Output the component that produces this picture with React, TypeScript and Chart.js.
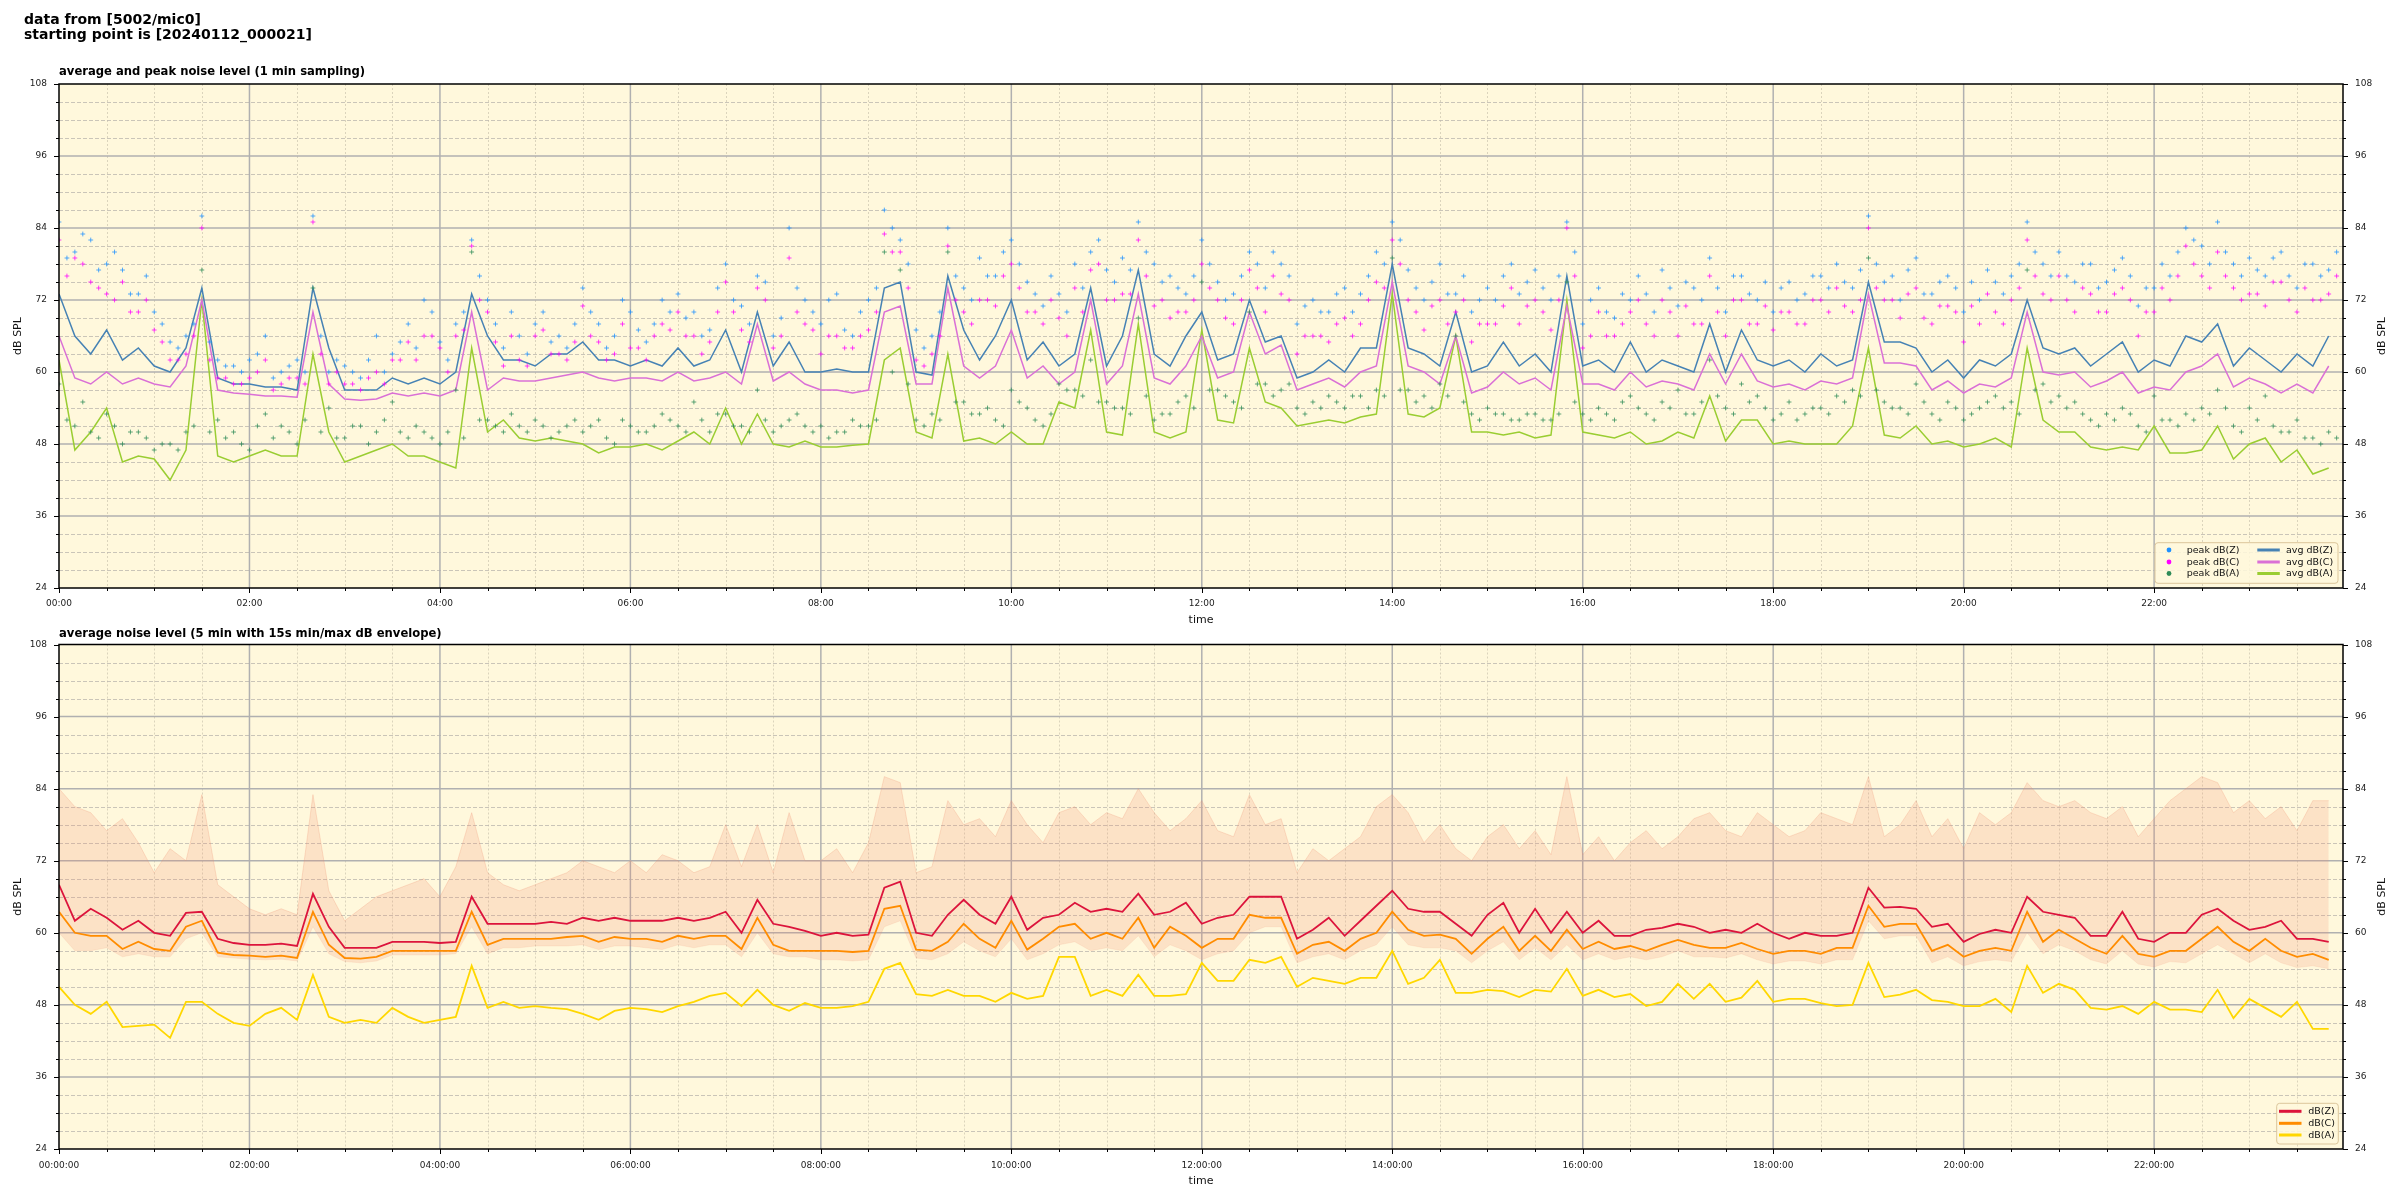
import React, { useEffect, useRef } from "react";
import { Chart, registerables } from "chart.js";

Chart.register(...registerables);

// ---------------- data (10-minute resolution, minutes from 00:00) ----------------
const SAMPLE_STEP_MIN = 10;
const PEAK_OFFSET_MIN = 5;
const X_MAX_MIN = 1439;
const xTickMinutes = [0, 120, 240, 360, 480, 600, 720, 840, 960, 1080, 1200, 1320];
const xTickLabelsTop = ["00:00", "02:00", "04:00", "06:00", "08:00", "10:00", "12:00", "14:00", "16:00", "18:00", "20:00", "22:00"];
const xTickLabelsBottom = ["00:00:00", "02:00:00", "04:00:00", "06:00:00", "08:00:00", "10:00:00", "12:00:00", "14:00:00", "16:00:00", "18:00:00", "20:00:00", "22:00:00"];
const yTickValues = [24, 36, 48, 60, 72, 84, 96, 108];

// top panel: 1-min averages
const avgZ = [
  73, 66, 63, 67, 62, 64, 61, 60, 64, 74, 59, 58, 58, 57.5, 57.5, 57, 74, 64, 57, 57, 57, 59, 58, 59, 58, 60, 73, 66, 62, 62, 61, 63, 63, 65, 62, 62, 61, 62, 61, 64, 61, 62, 67, 60, 70, 61, 65, 60,
  60, 60.5, 60, 60, 74, 75, 60, 59.5, 76, 67, 62, 66, 72, 62, 65, 61, 63, 74, 61, 66, 77, 63, 61, 66, 70, 62, 63, 72, 65, 66, 59, 60, 62, 60, 64, 64, 78, 64, 63, 61, 70, 60, 61, 65, 61, 63, 60, 76,
  61, 62, 60, 65, 60, 62, 61, 60, 68, 60, 67, 62, 61, 62, 60, 63, 61, 62, 75, 65, 65, 64, 60, 62, 59, 62, 61, 63, 72, 64, 63, 64, 61, 63, 65, 60, 62, 61, 66, 65, 68, 61, 64, 62, 60, 63, 61, 66,
];
const avgC = [
  66, 59, 58, 60, 58, 59, 58, 57.5, 61, 72, 57, 56.5, 56.3, 56, 56, 55.8, 70, 58, 55.5, 55.3, 55.5, 56.5, 56, 56.5, 56, 57, 70, 57, 59, 58.5, 58.5, 59, 59.5, 60, 59, 58.5, 59, 59, 58.5, 60, 58.5, 59, 60, 58, 68, 58.5, 60, 58,
  57, 57, 56.5, 57, 70, 71, 58, 58, 74, 61, 59, 61, 67, 59, 61, 58, 60, 72, 58, 61, 73, 59, 58, 61, 66, 59, 60, 70, 63, 64.5, 57, 58, 59, 57.5, 60, 61, 75, 61, 60, 58, 66, 56.5, 57.5, 60, 58, 59, 57, 71,
  58, 58, 57, 60, 57.5, 58.5, 58, 57, 63, 58, 63, 58.5, 57.5, 58, 57, 58.5, 58, 59, 73, 61.5, 61.5, 61, 57, 58.5, 56.5, 58, 57.5, 59, 70, 60, 59.5, 60, 57.5, 58.5, 60, 56.5, 57.5, 57, 60, 61, 63, 57.5, 59, 58, 56.5, 58, 56.5, 61,
];
const avgA = [
  62, 47, 50, 54, 45, 46, 45.5, 42, 47, 72, 46, 45, 46, 47, 46, 46, 63, 50, 45, 46, 47, 48, 46, 46, 45, 44, 64, 50, 52, 49, 48.5, 49, 48.5, 48, 46.5, 47.5, 47.5, 48, 47, 48.5, 50, 48, 54, 48, 53, 48, 47.5, 48.5,
  47.5, 47.5, 47.8, 48, 62, 64, 50, 49, 63, 48.5, 49, 48, 50, 48, 48, 55, 54, 67, 50, 49.5, 68, 50, 49, 50, 67, 52, 51.5, 64, 55, 54, 51, 51.5, 52, 51.5, 52.5, 53, 73, 53, 52.5, 54, 66, 50, 50, 49.5, 50, 49, 49.5, 72,
  50, 49.5, 49, 50, 48, 48.5, 50, 49, 56, 48.5, 52, 52, 48, 48.5, 48, 48, 48, 51, 64, 49.5, 49, 51, 48, 48.5, 47.5, 48, 49, 47.5, 64, 52, 50, 50, 47.5, 47, 47.5, 47, 51, 46.5, 46.5, 47, 51, 45.5, 48, 49, 45, 47, 43, 44,
];
// top panel: peaks at the 10-minute marks
const peakZ = [
  85, 80, 82, 78, 77, 73, 70, 65, 66, 86, 62, 61, 62, 66, 60, 62, 86, 60, 61, 59, 66, 63, 68, 72, 65, 68, 82, 72, 64, 66, 68, 65, 64, 74, 68, 66, 70, 65, 72, 73, 70, 67, 78, 71, 76, 66, 84, 72,
  68, 73, 66, 72, 87, 82, 67, 66, 84, 74, 79, 76, 82, 75, 71, 73, 78, 80, 77, 79, 85, 78, 76, 73, 82, 75, 73, 80, 74, 78, 68, 72, 70, 74, 73, 80, 85, 77, 72, 78, 73, 70, 74, 76, 73, 77, 72, 85,
  68, 74, 69, 72, 73, 77, 71, 74, 79, 70, 76, 72, 70, 75, 73, 76, 78, 74, 86, 75, 72, 79, 73, 76, 70, 72, 75, 76, 85, 78, 80, 75, 78, 75, 79, 71, 74, 76, 84, 81, 85, 78, 79, 76, 80, 74, 78, 77,
];
const peakC = [
  82, 79, 75, 73, 75, 70, 67, 62, 63, 84, 59, 58, 59, 62, 58, 59, 85, 58, 58, 57, 60, 62, 65, 66, 64, 66, 81, 70, 61, 62, 66, 63, 62, 71, 65, 63, 64, 62, 68, 70, 66, 65, 75, 67, 74, 64, 79, 68,
  63, 66, 64, 67, 83, 80, 62, 63, 81, 70, 72, 71, 78, 70, 68, 69, 74, 77, 72, 73, 82, 71, 69, 70, 78, 72, 68, 77, 70, 73, 63, 66, 65, 69, 68, 75, 82, 72, 67, 72, 70, 65, 68, 71, 68, 72, 67, 84,
  64, 70, 66, 70, 68, 72, 66, 68, 76, 66, 72, 68, 67, 70, 68, 72, 74, 70, 84, 72, 69, 74, 68, 71, 65, 68, 70, 72, 82, 73, 76, 70, 73, 70, 74, 66, 70, 72, 81, 76, 80, 74, 73, 71, 75, 70, 72, 73,
];
const peakA = [
  58, 51, 50, 53, 48, 50, 47, 48, 50, 77, 52, 50, 47, 53, 51, 48, 74, 54, 49, 51, 50, 55, 49, 50, 48, 57, 80, 52, 50, 51, 52, 49, 51, 50, 52, 48, 51, 50, 53, 51, 55, 50, 53, 51, 57, 50, 52, 51,
  51, 50, 52, 51, 80, 77, 52, 53, 80, 55, 53, 52, 57, 54, 51, 58, 57, 62, 55, 54, 69, 52, 53, 56, 75, 57, 55, 70, 58, 57, 54, 55, 56, 54, 56, 57, 79, 57, 56, 58, 66, 53, 54, 53, 52, 53, 52, 75,
  53, 54, 52, 56, 53, 55, 57, 53, 62, 54, 58, 56, 52, 55, 53, 54, 56, 57, 79, 55, 54, 58, 53, 55, 52, 54, 56, 55, 77, 58, 56, 55, 52, 53, 54, 51, 56, 52, 53, 54, 57, 51, 54, 56, 50, 52, 49, 50,
];
// top panel: peaks at the 5-minute marks in between
const peakZ2 = [
  79, 83, 77, 80, 73, 76, 68, 64, 68, 65, 61, 60, 63, 59, 61, 60, 66, 62, 60, 62, 60, 65, 64, 70, 62, 70, 76, 68, 70, 63, 70, 66, 68, 70, 64, 72, 67, 68, 70, 69, 66, 74, 72, 68, 75, 69, 74, 70,
  72, 67, 70, 74, 84, 78, 64, 70, 76, 72, 76, 80, 78, 73, 76, 70, 74, 82, 75, 77, 80, 75, 74, 76, 78, 72, 76, 78, 80, 76, 71, 70, 73, 70, 76, 78, 82, 74, 75, 73, 76, 72, 72, 78, 75, 74, 76, 80,
  72, 70, 73, 76, 70, 74, 75, 72, 74, 76, 73, 75, 74, 72, 76, 74, 75, 77, 78, 76, 77, 73, 75, 74, 75, 77, 73, 78, 80, 76, 76, 78, 74, 77, 76, 74, 78, 80, 82, 78, 80, 76, 77, 79, 76, 78, 76, 80,
];
const peakC2 = [
  76, 78, 74, 72, 70, 72, 65, 62, 66, 62, 59, 58, 60, 57, 59, 58, 63, 60, 58, 59, 58, 62, 62, 66, 60, 67, 72, 65, 66, 61, 67, 63, 65, 66, 62, 68, 64, 66, 67, 66, 63, 70, 70, 65, 72, 66, 70, 67,
  66, 64, 66, 70, 80, 74, 61, 66, 72, 68, 72, 76, 74, 70, 72, 66, 70, 78, 72, 73, 76, 72, 70, 72, 74, 69, 72, 74, 76, 72, 66, 66, 68, 66, 72, 74, 78, 70, 71, 68, 72, 68, 68, 74, 71, 70, 72, 76,
  66, 66, 68, 72, 66, 70, 71, 68, 70, 72, 68, 71, 70, 68, 72, 70, 71, 72, 74, 72, 73, 69, 71, 70, 71, 73, 68, 74, 76, 72, 72, 74, 70, 73, 72, 70, 74, 76, 78, 74, 76, 72, 73, 75, 72, 74, 72, 76,
];
const peakA2 = [
  52, 55, 49, 51, 50, 49, 48, 47, 51, 50, 49, 48, 51, 49, 50, 52, 50, 49, 51, 48, 52, 50, 51, 49, 50, 49, 52, 51, 53, 50, 51, 50, 52, 51, 49, 52, 50, 51, 52, 50, 52, 53, 51, 50, 52, 51, 53, 50,
  49, 50, 51, 52, 60, 58, 51, 52, 55, 53, 54, 51, 55, 52, 53, 57, 56, 55, 54, 53, 56, 53, 55, 54, 57, 56, 54, 58, 56, 58, 53, 54, 55, 56, 54, 56, 57, 55, 54, 56, 55, 52, 53, 52, 53, 52, 53, 55,
  52, 53, 55, 54, 52, 54, 53, 55, 56, 53, 55, 54, 53, 52, 54, 53, 55, 56, 57, 54, 53, 55, 52, 54, 53, 55, 54, 53, 57, 55, 54, 53, 51, 52, 53, 50, 52, 51, 52, 53, 54, 50, 52, 51, 50, 49, 48, 49,
];
// bottom panel: 5-min averages
const avg5Z = [
  68, 62, 64, 62.5, 60.5, 62, 60, 59.5, 63.3, 63.5, 59, 58.3, 58, 58, 58.2, 57.8, 66.5, 61, 57.5, 57.5, 57.5, 58.5, 58.5, 58.5, 58.3, 58.5, 66, 61.5, 61.5, 61.5, 61.5, 61.8, 61.5, 62.5, 62, 62.5, 62, 62, 62, 62.5, 62, 62.5, 63.5, 60, 65.5, 61.5, 61, 60.3,
  59.5, 60, 59.5, 59.7, 67.5, 68.5, 60, 59.5, 63, 65.5, 63, 61.5, 66, 60.5, 62.5, 63, 65, 63.5, 64, 63.5, 66.5, 63, 63.5, 65, 61.5, 62.5, 63, 66, 66, 66, 59, 60.5, 62.5, 59.5, 62, 64.5, 67, 64, 63.5, 63.5, 61.5, 59.5, 63, 65, 60, 64, 60, 63.5,
  60, 62, 59.5, 59.5, 60.5, 60.8, 61.5, 61, 60, 60.5, 60, 61.5, 60, 59, 60, 59.5, 59.5, 60, 67.5, 64.2, 64.3, 64, 61, 61.5, 58.5, 59.8, 60.5, 60, 66, 63.5, 63, 62.5, 59.5, 59.5, 63.5, 59, 58.5, 60, 60, 63, 64, 62, 60.5, 61, 62, 59, 59, 58.5,
];
const avg5C = [
  63.5, 60, 59.5, 59.5, 57.3, 58.5, 57.3, 57, 61, 62, 56.7, 56.3, 56.2, 56, 56.2, 55.8, 63.5, 58, 55.8, 55.7, 56, 57, 57, 57, 57, 57, 63.5, 58, 59, 59, 59, 59, 59.3, 59.5, 58.5, 59.3, 59, 59, 58.5, 59.5, 59, 59.5, 59.5, 57.3, 62.5, 58, 57, 57,
  57, 57, 56.8, 57, 64, 64.5, 57.2, 57, 58.5, 61.5, 59, 57.5, 62, 57.2, 59, 61, 61.5, 59, 60, 59, 62.5, 57.5, 61, 59.5, 57.5, 59, 59, 63, 62.5, 62.5, 56.5, 58, 58.5, 57, 59, 60, 63.5, 60.5, 59.5, 59.7, 59, 56.5, 59, 61, 57, 59.5, 57, 60.5,
  57.3, 58.5, 57.3, 57.8, 57, 58, 58.8, 58, 57.5, 57.5, 58.3, 57.3, 56.5, 57, 57, 56.5, 57.5, 57.5, 64.5, 61, 61.5, 61.5, 57, 58, 56, 57, 57.5, 57, 63.5, 58.5, 60.5, 59, 57.5, 56.5, 59.5, 56.5, 56, 57, 57, 59, 61, 58.5, 57, 59, 57, 56, 56.5, 55.5,
];
const avg5A = [
  51, 48, 46.5, 48.5, 44.3, 44.5, 44.7, 42.5, 48.5, 48.5, 46.5, 45, 44.5, 46.5, 47.5, 45.5, 53, 46, 45, 45.5, 45, 47.5, 46, 45, 45.5, 46, 54.5, 47.5, 48.5, 47.5, 47.8, 47.5, 47.3, 46.5, 45.5, 47, 47.5, 47.3, 46.8, 47.8, 48.5, 49.5, 50, 47.8, 50.5, 48, 47, 48.3,
  47.5, 47.5, 47.8, 48.5, 54, 55, 49.8, 49.5, 50.5, 49.5, 49.5, 48.5, 50, 49, 49.5, 56, 56, 49.5, 50.5, 49.5, 53, 49.5, 49.5, 49.8, 55, 52, 52, 55.5, 55, 56, 51, 52.5, 52, 51.5, 52.5, 52.5, 57, 51.5, 52.5, 55.5, 50, 50, 50.5, 50.3, 49.3, 50.5, 50.2, 54,
  49.5, 50.5, 49.3, 49.8, 47.8, 48.5, 51.5, 49, 51.5, 48.5, 49.2, 52, 48.5, 49, 49, 48.3, 47.8, 48, 55, 49.3, 49.7, 50.5, 48.8, 48.5, 47.8, 47.8, 49, 46.8, 54.5, 50, 51.5, 50.5, 47.5, 47.2, 47.8, 46.5, 48.5, 47.2, 47.2, 46.8, 50.5, 45.8, 49, 47.5, 46, 48.5, 44, 44,
];
// bottom panel: 15 s min / max envelope
const envMax = [
  84, 81, 80, 77, 79, 75, 70, 74, 72, 83, 68, 66, 64, 63, 64, 63, 83, 67, 62, 64, 66, 67, 68, 69, 66, 71, 80, 70, 68, 67, 68, 69, 70, 72, 71, 70, 72, 70, 73, 72, 70, 71, 78, 71, 78, 70, 80, 72,
  72, 74, 70, 75, 86, 85, 70, 71, 82, 78, 79, 76, 82, 78, 75, 80, 81, 78, 80, 79, 84, 80, 77, 79, 82, 77, 76, 83, 78, 79, 70, 74, 72, 74, 76, 81, 83, 80, 75, 78, 74, 72, 76, 78, 74, 77, 73, 86,
  73, 76, 72, 75, 77, 74, 76, 79, 80, 77, 76, 80, 78, 76, 77, 80, 79, 78, 86, 76, 78, 82, 76, 79, 74, 80, 78, 80, 85, 82, 81, 82, 80, 79, 81, 76, 79, 82, 84, 86, 85, 80, 82, 79, 81, 77, 82, 82,
];
const envMin = [
  60, 57, 57, 57.5, 56, 56.5, 56, 56, 59, 60, 56, 55.8, 55.6, 55.5, 55.6, 55.3, 61, 56.5, 55.2, 55, 55.3, 56.3, 56.3, 56.3, 56.3, 56.5, 61, 56.5, 57.5, 57.5, 57.8, 57.8, 57.8, 58, 57.2, 57.8, 57.8, 57.5, 57.2, 58, 57.5, 58, 58, 56, 60, 56.5, 56, 56,
  55.5, 55.5, 55.3, 55.5, 61, 62, 55.8, 55.5, 56.5, 58.5, 57, 56, 59, 55.5, 56.5, 58, 58.5, 57, 57.5, 57, 59.5, 56, 58, 57, 55.5, 56.5, 57, 60, 61, 61, 55, 56, 56.5, 55.5, 57, 58, 61, 58, 57.5, 57.5, 57, 55, 57, 58.5, 55.5, 57.5, 55.5, 58,
  55.5, 56.5, 55.5, 56, 55.5, 56, 57, 56, 56, 55.8, 56.5, 55.5, 54.8, 55.3, 55.3, 54.8, 55.5, 55.5, 62, 59, 59.5, 59.5, 55, 56, 54.5, 55.2, 55.5, 55.2, 60, 56.5, 58, 57, 55.5, 54.8, 57, 54.8, 54.3, 55.2, 55, 56.5, 58, 56.5, 55, 56.5, 55, 54.2, 54.5, 54,
];

// ---------------- styling ----------------
const FONT = "DejaVu Sans";
const PLOT_BG = "#fff8dc";
const C_PEAK_Z = "rgba(30,144,255,0.75)";
const C_PEAK_C = "rgba(255,0,255,0.75)";
const C_PEAK_A = "rgba(46,139,87,0.75)";
const C_AVG_Z = "#4682b4";
const C_AVG_C = "#da70d6";
const C_AVG_A = "#9acd32";
const C_5Z = "#dc143c";
const C_5C = "#ff8c00";
const C_5A = "#ffd700";
const C_ENV = "rgba(240,140,110,0.2)";

const toPts = (arr: number[], offset = 0) => arr.map((v, i) => ({ x: i * SAMPLE_STEP_MIN + offset, y: v }));

function line(ctx: CanvasRenderingContext2D, x1: number, y1: number, x2: number, y2: number) {
  ctx.beginPath();
  ctx.moveTo(x1, y1);
  ctx.lineTo(x2, y2);
  ctx.stroke();
}

function drawBackground(chart: any) {
  const { ctx, chartArea: a, scales } = chart;
  const xs = scales.x;
  const ys = scales.y;
  ctx.save();
  ctx.fillStyle = PLOT_BG;
  ctx.fillRect(a.left, a.top, a.right - a.left, a.bottom - a.top);
  ctx.lineWidth = 0.8;
  ctx.strokeStyle = "#d2cbb4";
  ctx.setLineDash([2, 2]);
  for (let m = 30; m < X_MAX_MIN; m += 30) {
    if (m % 120 === 0) continue;
    const px = Math.round(xs.getPixelForValue(m)) + 0.5;
    line(ctx, px, a.top, px, a.bottom);
  }
  ctx.strokeStyle = "#bcb8ae";
  ctx.setLineDash([4, 2]);
  for (let v = 27; v < 108; v += 3) {
    if (v % 12 === 0) continue;
    const py = Math.round(ys.getPixelForValue(v)) + 0.5;
    line(ctx, a.left, py, a.right, py);
  }
  ctx.setLineDash([]);
  ctx.strokeStyle = "#b0b0b0";
  ctx.lineWidth = 1.5;
  for (const m of xTickMinutes) {
    if (m === 0) continue;
    const px = xs.getPixelForValue(m);
    line(ctx, px, a.top, px, a.bottom);
  }
  for (const v of yTickValues) {
    if (v === 24 || v === 108) continue;
    const py = ys.getPixelForValue(v);
    line(ctx, a.left, py, a.right, py);
  }
  ctx.restore();
}

function drawFrame(chart: any) {
  const { ctx, chartArea: a, scales } = chart;
  const xs = scales.x;
  const ys = scales.y;
  ctx.save();
  ctx.strokeStyle = "#000";
  ctx.lineWidth = 1;
  for (let v = 24; v <= 108; v += 3) {
    const py = Math.round(ys.getPixelForValue(v)) + 0.5;
    const len = v % 12 === 0 ? 5 : 3;
    line(ctx, a.left - len, py, a.left, py);
    line(ctx, a.right, py, a.right + len, py);
  }
  for (let m = 0; m < X_MAX_MIN; m += 30) {
    const px = Math.round(xs.getPixelForValue(m)) + 0.5;
    const len = m % 120 === 0 ? 5 : 3;
    line(ctx, px, a.bottom, px, a.bottom + len);
  }
  ctx.lineWidth = 1.5;
  ctx.strokeRect(a.left, a.top, a.right - a.left, a.bottom - a.top);
  ctx.restore();
}

function drawAxisTitles(chart: any, xTitleY: number) {
  const { ctx, chartArea: a } = chart;
  ctx.save();
  ctx.fillStyle = "#111";
  ctx.font = `11px "${FONT}"`;
  ctx.textAlign = "center";
  ctx.textBaseline = "middle";
  ctx.fillText("time", (a.left + a.right) / 2, xTitleY);
  const cy = (a.top + a.bottom) / 2;
  for (const x of [18, 2382]) {
    ctx.save();
    ctx.translate(x, cy);
    ctx.rotate(-Math.PI / 2);
    ctx.fillText("dB SPL", 0, 0);
    ctx.restore();
  }
  ctx.restore();
}

type LegendItem = { kind: "dot" | "line"; color: string; label: string; mx: number; tx: number; dy: number };

function drawLegend(chart: any, box: { dx: number; dy: number; w: number; h: number }, items: LegendItem[]) {
  const { ctx, chartArea: a } = chart;
  ctx.save();
  ctx.beginPath();
  const x = a.right - box.dx;
  const y = a.bottom - box.dy;
  ctx.roundRect(x, y, box.w, box.h, 3);
  ctx.fillStyle = "rgba(255,248,220,0.85)";
  ctx.fill();
  ctx.strokeStyle = "#dcc69c";
  ctx.lineWidth = 1;
  ctx.stroke();
  ctx.font = `9.5px "${FONT}"`;
  ctx.textBaseline = "middle";
  ctx.textAlign = "left";
  for (const it of items) {
    const cy = a.bottom - it.dy;
    if (it.kind === "dot") {
      ctx.fillStyle = it.color;
      ctx.beginPath();
      ctx.arc(a.right - it.mx, cy, 2.4, 0, Math.PI * 2);
      ctx.fill();
    } else {
      ctx.strokeStyle = it.color;
      ctx.lineWidth = 3;
      line(ctx, a.right - it.mx, cy, a.right - it.mx + 22.5, cy);
    }
    ctx.fillStyle = "#111";
    ctx.fillText(it.label, a.right - it.tx, cy + 0.5);
  }
  ctx.restore();
}

function makeScales(labels: string[], xTickPad: number) {
  const yTickOpts = { padding: 12, font: { size: 9, family: FONT }, color: "#222" };
  return {
    x: {
      type: "linear",
      min: 0,
      max: X_MAX_MIN,
      offset: false,
      afterBuildTicks: (s: any) => {
        s.ticks = xTickMinutes.map((v) => ({ value: v }));
      },
      afterFit: (s: any) => {
        s.height = 45;
      },
      grid: { display: false, drawTicks: false },
      border: { display: false },
      ticks: {
        autoSkip: false,
        maxRotation: 0,
        minRotation: 0,
        padding: xTickPad,
        font: { size: 9, family: FONT },
        color: "#222",
        callback: (v: any) => labels[xTickMinutes.indexOf(Number(v))] ?? "",
      },
    },
    y: {
      type: "linear",
      position: "left",
      min: 24,
      max: 108,
      afterBuildTicks: (s: any) => {
        s.ticks = yTickValues.map((v) => ({ value: v }));
      },
      afterFit: (s: any) => {
        s.width = 59;
      },
      grid: { display: false, drawTicks: false },
      border: { display: false },
      ticks: yTickOpts,
    },
    yR: {
      type: "linear",
      position: "right",
      min: 24,
      max: 108,
      afterBuildTicks: (s: any) => {
        s.ticks = yTickValues.map((v) => ({ value: v }));
      },
      afterFit: (s: any) => {
        s.width = 57;
      },
      grid: { display: false, drawTicks: false },
      border: { display: false },
      ticks: yTickOpts,
    },
  };
}

function baseOptions(padTop: number, padBottom: number, labels: string[], xTickPad: number) {
  return {
    animation: false,
    responsive: false,
    devicePixelRatio: 1,
    events: [],
    layout: { padding: { top: padTop, bottom: padBottom, left: 0, right: 0 } },
    plugins: { legend: { display: false }, tooltip: { enabled: false }, title: { display: false } },
    scales: makeScales(labels, xTickPad),
  };
}

function topConfig(): any {
  const peak = (label: string, data: number[], color: string, offset: number) => ({
    label,
    data: toPts(data, offset),
    showLine: false,
    pointStyle: "cross",
    pointRadius: 2.4,
    pointBorderWidth: 1,
    pointBorderColor: color,
    pointBackgroundColor: color,
    borderColor: color,
    xAxisID: "x",
    yAxisID: "y",
  });
  const avg = (label: string, data: number[], color: string) => ({
    label,
    data: toPts(data),
    borderColor: color,
    borderWidth: 1.5,
    pointRadius: 0,
    tension: 0,
    fill: false,
    xAxisID: "x",
    yAxisID: "y",
  });
  const legendItems: LegendItem[] = [
    { kind: "dot", color: "#1e90ff", label: "peak dB(Z)", mx: 174, tx: 156.3, dy: 38 },
    { kind: "dot", color: "#ff00ff", label: "peak dB(C)", mx: 174, tx: 156.3, dy: 26 },
    { kind: "dot", color: "#2e8b57", label: "peak dB(A)", mx: 174, tx: 156.3, dy: 14.5 },
    { kind: "line", color: C_AVG_Z, label: "avg dB(Z)", mx: 85.7, tx: 57, dy: 38 },
    { kind: "line", color: C_AVG_C, label: "avg dB(C)", mx: 85.7, tx: 57, dy: 26 },
    { kind: "line", color: C_AVG_A, label: "avg dB(A)", mx: 85.7, tx: 57, dy: 14.5 },
  ];
  return {
    type: "line",
    data: {
      datasets: [
        peak("peak dB(Z)", peakZ, C_PEAK_Z, 0),
        peak("peak dB(Z) ", peakZ2, C_PEAK_Z, PEAK_OFFSET_MIN),
        peak("peak dB(C)", peakC, C_PEAK_C, 0),
        peak("peak dB(C) ", peakC2, C_PEAK_C, PEAK_OFFSET_MIN),
        peak("peak dB(A)", peakA, C_PEAK_A, 0),
        peak("peak dB(A) ", peakA2, C_PEAK_A, PEAK_OFFSET_MIN),
        avg("avg dB(Z)", avgZ, C_AVG_Z),
        avg("avg dB(C)", avgC, C_AVG_C),
        avg("avg dB(A)", avgA, C_AVG_A),
      ],
    },
    options: baseOptions(84, 567, xTickLabelsTop, 10),
    plugins: [
      {
        id: "topDecor",
        beforeDraw: (chart: any) => drawBackground(chart),
        afterDatasetsDraw: (chart: any) => drawFrame(chart),
        afterDraw: (chart: any) => {
          const { ctx } = chart;
          ctx.save();
          ctx.fillStyle = "#000";
          ctx.textAlign = "left";
          ctx.textBaseline = "alphabetic";
          ctx.font = `bold 14px "${FONT}"`;
          ctx.fillText("data from [5002/mic0]", 24, 24);
          ctx.fillText("starting point is [20240112_000021]", 24, 38.5);
          ctx.font = `bold 11.6px "${FONT}"`;
          ctx.fillText("average and peak noise level (1 min sampling)", 59, 75);
          ctx.restore();
          drawAxisTitles(chart, 620);
          drawLegend(chart, { dx: 188, dy: 45.3, w: 183, h: 40.6 }, legendItems);
        },
      },
    ],
  };
}

function bottomConfig(): any {
  const avg = (label: string, data: number[], color: string) => ({
    label,
    data: toPts(data),
    borderColor: color,
    borderWidth: 1.8,
    pointRadius: 0,
    tension: 0,
    fill: false,
    xAxisID: "x",
    yAxisID: "y",
  });
  const legendItems: LegendItem[] = [
    { kind: "line", color: C_5Z, label: "dB(Z)", mx: 64, tx: 34.7, dy: 37.7 },
    { kind: "line", color: C_5C, label: "dB(C)", mx: 64, tx: 34.7, dy: 25.7 },
    { kind: "line", color: C_5A, label: "dB(A)", mx: 64, tx: 34.7, dy: 14 },
  ];
  return {
    type: "line",
    data: {
      datasets: [
        avg("dB(Z)", avg5Z, C_5Z),
        avg("dB(C)", avg5C, C_5C),
        avg("dB(A)", avg5A, C_5A),
        {
          label: "max envelope",
          data: toPts(envMax),
          borderColor: "rgba(240,140,110,0.3)",
          borderWidth: 0.8,
          backgroundColor: C_ENV,
          pointRadius: 0,
          tension: 0,
          fill: "+1",
          xAxisID: "x",
          yAxisID: "y",
        },
        {
          label: "min envelope",
          data: toPts(envMin),
          borderColor: "rgba(240,140,110,0.2)",
          borderWidth: 0.6,
          pointRadius: 0,
          tension: 0,
          fill: false,
          xAxisID: "x",
          yAxisID: "y",
        },
      ],
    },
    options: baseOptions(644.5, 6, xTickLabelsBottom, 11),
    plugins: [
      {
        id: "bottomDecor",
        beforeDraw: (chart: any) => drawBackground(chart),
        afterDatasetsDraw: (chart: any) => drawFrame(chart),
        afterDraw: (chart: any) => {
          const { ctx } = chart;
          ctx.save();
          ctx.fillStyle = "#000";
          ctx.textAlign = "left";
          ctx.textBaseline = "alphabetic";
          ctx.font = `bold 11.6px "${FONT}"`;
          ctx.fillText("average noise level (5 min with 15s min/max dB envelope)", 59, 636.5);
          ctx.restore();
          drawAxisTitles(chart, 1181.5);
          drawLegend(chart, { dx: 66.3, dy: 45.7, w: 61.6, h: 40.7 }, legendItems);
        },
      },
    ],
  };
}

export default function App() {
  const topRef = useRef<HTMLCanvasElement>(null);
  const botRef = useRef<HTMLCanvasElement>(null);
  useEffect(() => {
    document.body.style.margin = "0";
    Chart.defaults.font.family = FONT;
    const c1 = new Chart(topRef.current as HTMLCanvasElement, topConfig());
    const c2 = new Chart(botRef.current as HTMLCanvasElement, bottomConfig());
    return () => {
      c1.destroy();
      c2.destroy();
    };
  }, []);
  return (
    <div style={{ position: "relative", width: 2400, height: 1200, background: "#ffffff" }}>
      <canvas ref={topRef} width={2400} height={1200} style={{ position: "absolute", left: 0, top: 0 }} />
      <canvas ref={botRef} width={2400} height={1200} style={{ position: "absolute", left: 0, top: 0 }} />
    </div>
  );
}
